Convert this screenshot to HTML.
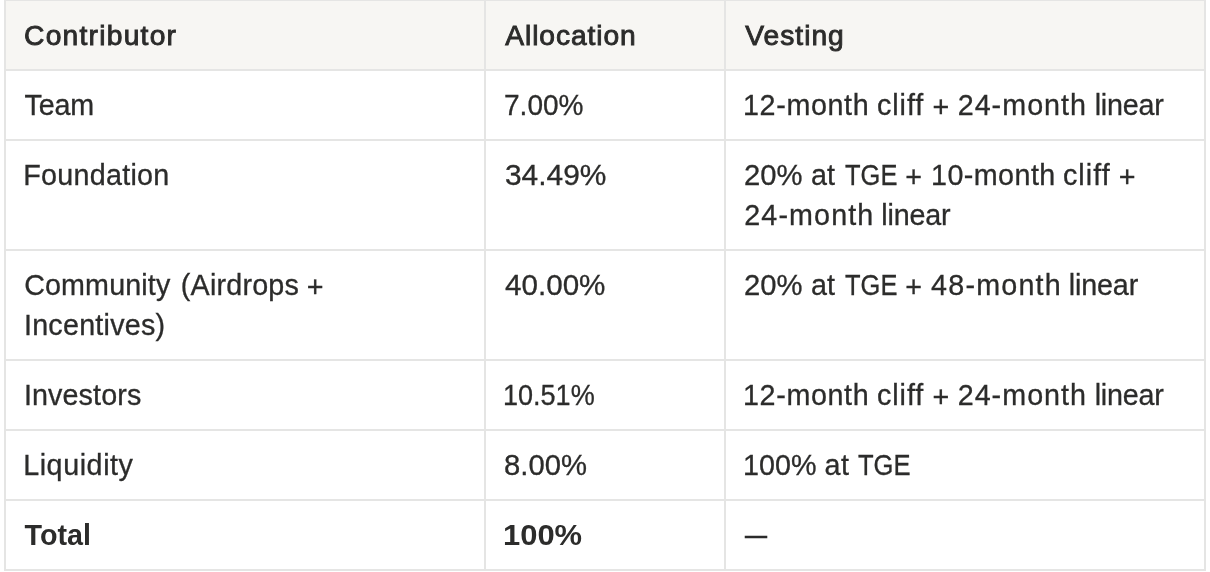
<!DOCTYPE html>
<html><head><meta charset="utf-8"><title>Token allocation table</title>
<style>
html,body{margin:0;padding:0;background:#fff;}
body{width:1210px;height:572px;position:relative;overflow:hidden;font-family:"Liberation Sans",sans-serif;color:#2c2c2b;}
.hdr{position:absolute;left:4px;top:0;width:1202px;height:71px;background:#f7f6f3;}
.hl{position:absolute;left:4px;width:1202px;height:2px;background:#e5e5e4;}
.vl{position:absolute;top:0;width:2px;height:571px;background:#e5e5e4;}
.t{position:absolute;transform-origin:0 0;-webkit-text-stroke:0.3px #2c2c2b;white-space:pre;font-size:28.7px;line-height:40px;height:40px;}
.h{-webkit-text-stroke:0.9px #2c2c2b;font-size:28.2px;}
.b{font-weight:bold;-webkit-text-stroke:0;}
.d{-webkit-text-stroke:0.7px #2c2c2b;}
</style></head><body>
<div class="hdr"></div>
<div class="hl" style="top:-1px"></div>
<div class="hl" style="top:69px"></div>
<div class="hl" style="top:139px"></div>
<div class="hl" style="top:249px"></div>
<div class="hl" style="top:359px"></div>
<div class="hl" style="top:429px"></div>
<div class="hl" style="top:499px"></div>
<div class="hl" style="top:569px"></div>
<div class="vl" style="left:4px"></div>
<div class="vl" style="left:484px"></div>
<div class="vl" style="left:724px"></div>
<div class="vl" style="left:1204px"></div>
<span class="t h" style="left:24.07px;top:15.1px;letter-spacing:1.248px">Contributor</span>
<span class="t h" style="left:505.32px;top:15.1px;letter-spacing:0.903px">Allocation</span>
<span class="t h" style="left:745.33px;top:15.1px;letter-spacing:1.000px">Vesting</span>
<span class="t" style="left:24.52px;top:85.1px;letter-spacing:-0.142px">Team</span>
<span class="t" style="left:503.68px;top:85.1px;transform:scaleX(0.9776)">7.00%</span>
<span class="t" style="left:743.02px;top:85.1px;letter-spacing:0.636px">12-month</span>
<span class="t" style="left:876.90px;top:85.1px;letter-spacing:0.981px">cliff</span>
<span class="t" style="left:932.38px;top:87.3px">+</span>
<span class="t" style="left:957.65px;top:85.1px;letter-spacing:1.032px">24-month</span>
<span class="t" style="left:1094.68px;top:85.1px;letter-spacing:-0.195px">linear</span>
<span class="t" style="left:23.17px;top:155.1px;letter-spacing:0.281px">Foundation</span>
<span class="t" style="left:504.58px;top:155.1px;transform:scaleX(1.0417)">34.49%</span>
<span class="t" style="left:744.02px;top:155.1px;transform:scaleX(1.0186)">20%</span>
<span class="t" style="left:810.90px;top:155.1px;letter-spacing:0.200px">at</span>
<span class="t" style="left:844.58px;top:155.1px;transform:scaleX(0.8881)">TGE</span>
<span class="t" style="left:905.17px;top:157.3px">+</span>
<span class="t" style="left:931.02px;top:155.1px;letter-spacing:0.436px">10-month</span>
<span class="t" style="left:1062.90px;top:155.1px;letter-spacing:1.081px">cliff</span>
<span class="t" style="left:1118.78px;top:157.3px">+</span>
<span class="t" style="left:744.25px;top:195.1px;letter-spacing:1.118px">24-month</span>
<span class="t" style="left:881.27px;top:195.1px;letter-spacing:-0.155px">linear</span>
<span class="t" style="left:24.15px;top:265.1px;letter-spacing:0.137px">Community</span>
<span class="t" style="left:180.80px;top:265.1px;letter-spacing:0.209px">(Airdrops</span>
<span class="t" style="left:306.77px;top:267.3px">+</span>
<span class="t" style="left:23.92px;top:305.1px;letter-spacing:0.252px">Incentives)</span>
<span class="t" style="left:504.51px;top:265.1px;transform:scaleX(1.0321)">40.00%</span>
<span class="t" style="left:744.02px;top:265.1px;transform:scaleX(1.0186)">20%</span>
<span class="t" style="left:810.90px;top:265.1px;letter-spacing:0.200px">at</span>
<span class="t" style="left:844.58px;top:265.1px;transform:scaleX(0.8881)">TGE</span>
<span class="t" style="left:905.17px;top:267.3px">+</span>
<span class="t" style="left:931.12px;top:265.1px;letter-spacing:1.193px">48-month</span>
<span class="t" style="left:1068.68px;top:265.1px;letter-spacing:-0.115px">linear</span>
<span class="t" style="left:23.92px;top:375.1px;letter-spacing:0.119px">Investors</span>
<span class="t" style="left:503.14px;top:375.1px;transform:scaleX(0.9425)">10.51%</span>
<span class="t" style="left:743.02px;top:375.1px;letter-spacing:0.636px">12-month</span>
<span class="t" style="left:876.90px;top:375.1px;letter-spacing:0.981px">cliff</span>
<span class="t" style="left:932.38px;top:377.3px">+</span>
<span class="t" style="left:957.65px;top:375.1px;letter-spacing:1.032px">24-month</span>
<span class="t" style="left:1094.68px;top:375.1px;letter-spacing:-0.195px">linear</span>
<span class="t" style="left:23.17px;top:445.1px;letter-spacing:0.569px">Liquidity</span>
<span class="t" style="left:504.28px;top:445.1px;transform:scaleX(1.0198)">8.00%</span>
<span class="t" style="left:743.02px;top:445.1px;transform:scaleX(1.0007)">100%</span>
<span class="t" style="left:824.50px;top:445.1px;letter-spacing:0.600px">at</span>
<span class="t" style="left:857.98px;top:445.1px;transform:scaleX(0.8916)">TGE</span>
<span class="t b" style="left:24.62px;top:515.1px;letter-spacing:0.000px">Total</span>
<span class="t b" style="left:502.71px;top:515.1px;transform:scaleX(1.0780)">100%</span>
<span class="t d" style="left:745.27px;top:515.1px;transform:scaleX(0.7674)">—</span>
</body></html>
